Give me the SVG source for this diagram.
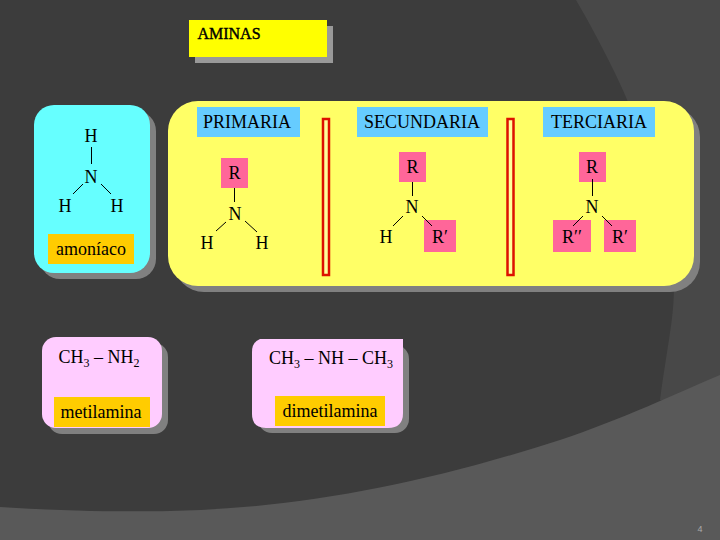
<svg xmlns="http://www.w3.org/2000/svg" width="720" height="540" viewBox="0 0 720 540">
<style>
text{font-family:"Liberation Serif","Times New Roman",serif;font-size:18px;fill:#000;text-anchor:middle}
.sh{fill:#808080}
.lab{fill:#66ccff}
.r{fill:#ff6699}
.o{fill:#ffcc00}
.b{stroke:#000;stroke-width:1;fill:none}
.bar{fill:#ffff99;stroke:#dd1100;stroke-width:2.5}
</style>
<rect width="720" height="540" fill="#3c3c3c"/>
<path d="M576 0H720V400H660C668 340 678 300 672 270C665 190 640 110 576 0Z" fill="#484848"/>
<path d="M0 507C60 511 120 512 170 511C300 508 420 485 560 440C620 420 680 392 720 375V540H0Z" fill="#595959"/>
<g id="aminas"><rect x="195" y="26" width="138" height="37" fill="#999"/><rect x="189" y="20" width="138" height="37" fill="#ff0"/><text x="229" y="39" style="font-size:16px;stroke:#000;stroke-width:.4">AMINAS</text></g>
<g id="amoniaco"><rect x="40" y="111" width="116" height="168" rx="20" class="sh"/><rect x="34" y="105" width="116" height="168" rx="20" fill="#66ffff"/><rect x="48" y="234" width="86" height="30" class="o"/><text x="91" y="142">H</text><text x="91" y="183">N</text><text x="65" y="212">H</text><text x="117" y="212">H</text><text x="91" y="255">amoníaco</text><path class="b" d="M91.500 147V164M83 184L73 194M101 184L111 194"/></g>
<g id="panel"><rect x="174" y="107" width="526" height="185" rx="30" class="sh"/><rect x="168" y="101" width="526" height="185" rx="30" fill="#ffff66"/>
<rect x="321.500" y="119" width="6" height="156" class="bar" transform="translate(1.500 0)"/><rect x="507.500" y="119" width="6" height="156" class="bar"/></g>
<g id="primaria"><rect x="197" y="107" width="103" height="30" class="lab"/><text x="247" y="128">PRIMARIA</text><rect x="221" y="158" width="27" height="30" class="r"/><text x="234.500" y="179">R</text><text x="235" y="220">N</text><text x="207" y="249">H</text><text x="262" y="249">H</text><path class="b" d="M234.500 188V202M226 222L216 231M245 221L257 232"/></g>
<g id="secundaria"><rect x="357" y="107" width="131" height="30" class="lab"/><text x="422" y="128">SECUNDARIA</text><rect x="399" y="152" width="27" height="30" class="r"/><text x="412.500" y="173">R</text><text x="412" y="213">N</text><text x="386" y="243">H</text><rect x="424" y="220" width="32" height="32" class="r"/><text x="440" y="243">R′</text><path class="b" d="M412.500 182V196M403 216L393 226M422 216L432 226"/></g>
<g id="terciaria"><rect x="543" y="107" width="112" height="30" class="lab"/><text x="599" y="128">TERCIARIA</text><rect x="579" y="152" width="27" height="30" class="r"/><text x="592" y="173">R</text><text x="592" y="213">N</text><rect x="553" y="220" width="38" height="32" class="r"/><text x="572" y="243">R′′</text><rect x="604" y="220" width="32" height="32" class="r"/><text x="620" y="243">R′</text><path class="b" d="M592.500 179V196M583 216L573 226M602 216L612 226"/></g>
<g id="metilamina"><rect x="48" y="343" width="120" height="91" rx="14" class="sh"/><rect x="42" y="337" width="120" height="91" rx="14" fill="#ffccff"/><rect x="54" y="397" width="96" height="30" class="o"/><text x="99" y="363">CH<tspan font-size="12" dy="4">3</tspan><tspan dy="-4"> – NH</tspan><tspan font-size="12" dy="4">2</tspan></text><text x="101" y="418">metilamina</text></g>
<g id="dimetilamina"><rect x="258" y="345" width="151" height="88" rx="14" class="sh"/><path d="M260 339H403V413Q403 428 388 428H266Q252 428 252 414V352Q252 342 260 339Z" fill="#ffccff"/><rect x="275" y="396" width="110" height="30" class="o"/><text x="331" y="364">CH<tspan font-size="12" dy="4">3</tspan><tspan dy="-4"> – NH – CH</tspan><tspan font-size="12" dy="4">3</tspan></text><text x="330" y="417">dimetilamina</text></g>
<text x="700" y="532" style="font-family:'Liberation Sans',sans-serif;font-size:9px;fill:#aaa">4</text>
</svg>
